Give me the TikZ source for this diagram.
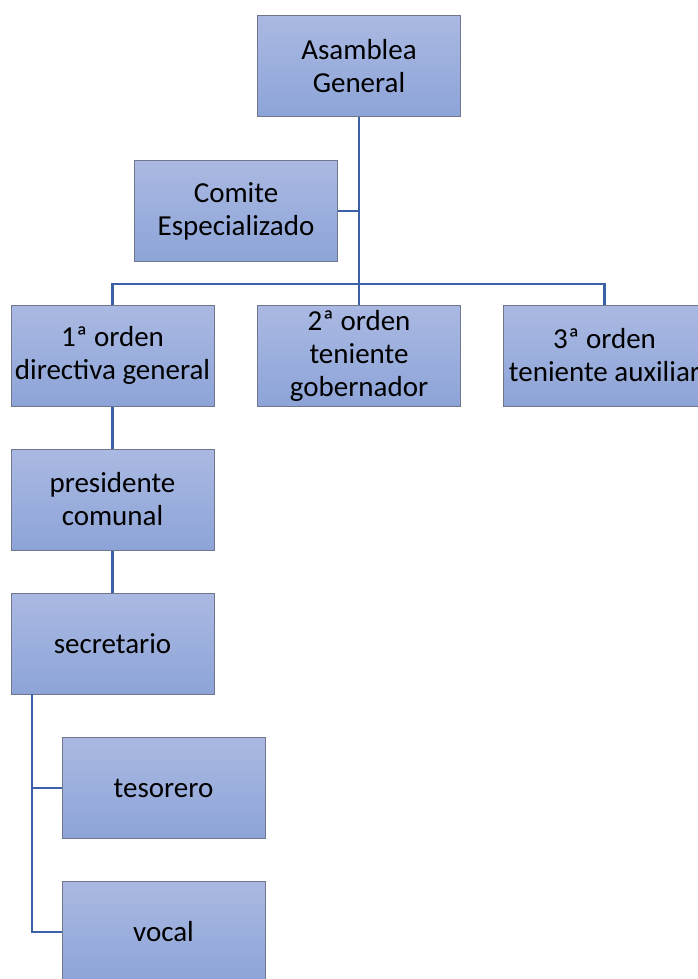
\documentclass[tikz,border=0pt]{standalone}
\usepackage{fontspec}
\setmainfont{Carlito}
\usetikzlibrary{positioning}
\definecolor{boxtop}{RGB}{170,185,226}
\definecolor{boxbottom}{RGB}{141,164,216}
\definecolor{boxline}{RGB}{112,119,138}
\definecolor{linkblue}{RGB}{60,96,168}
\tikzset{
  orgbox/.style={
    rectangle,
    top color=boxtop,
    bottom color=boxbottom,
    draw=boxline, line width=1pt,
    minimum width=203pt,
    minimum height=101pt,
    inner xsep=1pt,
    align=center,
    font=\fontsize{29}{33}\selectfont},
  link/.style={draw=linkblue, line width=2.3pt},
}
\begin{document}
\begin{tikzpicture}[x=1pt,y=-1pt]
  \useasboundingbox (0,0) rectangle (698,979);

  \node[orgbox] (asamblea) at (359,66) {Asamblea\\General};
  \node[orgbox] (comite) at (236,211) {Comite\\Especializado};
  \node[orgbox] (orden1) at (112.5,355.5) {1ª orden\\directiva general};
  \node[orgbox] (orden2) at (359,355.5) {2ª orden\\teniente\\gobernador};
  \node[orgbox] (orden3) at (604.5,355.5) {3ª orden\\teniente auxiliar};
  \node[orgbox] (presidente) at (112.5,499.5) {presidente\\comunal};
  \node[orgbox] (secretario) at (112.5,643.5) {secretario};
  \node[orgbox] (tesorero) at (163.5,788) {tesorero};
  \node[orgbox] (vocal) at (163.5,932) {vocal};

  \coordinate (bus) at (359,284);
  \coordinate (trunk) at (32,694);

  \draw[link] (asamblea.south) -- (bus);
  \draw[link] (comite.east) -- (comite.east -| asamblea.south);
  \draw[link] (bus) -| (orden1.north);
  \draw[link] (bus) -- (orden2.north);
  \draw[link] (bus) -| (orden3.north);
  \draw[link] (orden1.south) -- (presidente.north);
  \draw[link] (presidente.south) -- (secretario.north);
  \draw[link] (trunk) |- (tesorero.west);
  \draw[link] (trunk) |- (vocal.west);

\end{tikzpicture}
\end{document}
